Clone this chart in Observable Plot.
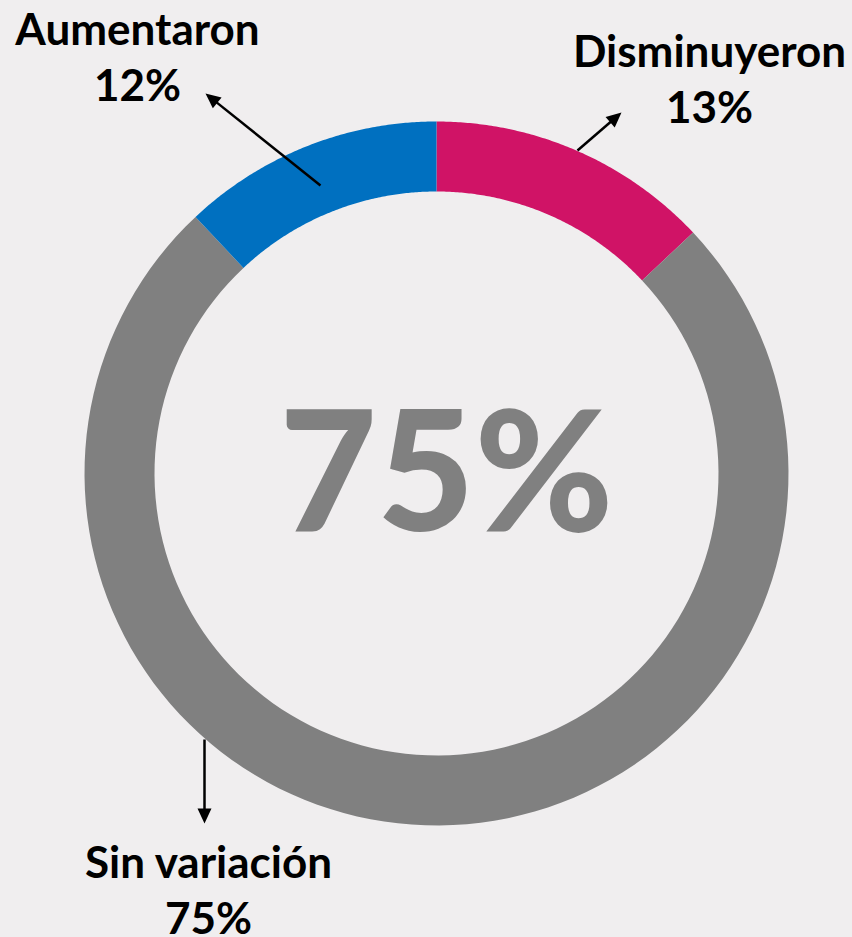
<!DOCTYPE html>
<html>
<head>
<meta charset="utf-8">
<script src="https://cdn.jsdelivr.net/npm/d3@7"></script>
<script src="https://cdn.jsdelivr.net/npm/@observablehq/plot@0.6"></script>
<style>
  html, body { margin: 0; padding: 0; background: #F0EEEF; }
  #chart { width: 852px; height: 937px; }
</style>
</head>
<body>
<div id="chart"></div>
<script>
// ---- data ----
const categories = ["Disminuyeron", "Sin variación", "Aumentaron"];
const values = [13, 75, 12];
const colors = ["#D01366", "#808080", "#0070C0"];
const centerLabel = "75%";

// ---- layout constants (pixel-unit data space, origin at donut centre, y up) ----
const R_OUT = 352, R_IN = 282;
const labelPos = {
  "Disminuyeron": [273, 351],
  "Sin variación": [-228, -460],
  "Aumentaron": [-299, 373]
};
const arrowPos = {
  "Disminuyeron": [[141, 323], [185, 361]],
  "Sin variación": [[-232, -266], [-232, -350]],
  "Aumentaron": [[-116, 288], [-231, 380]]
};

// ---- build arc polygons from values ----
const total = d3.sum(values);
const arcs = [];
let cum = 0;
values.forEach((v, i) => {
  const a0 = cum / total * 2 * Math.PI;
  const a1 = (cum + v) / total * 2 * Math.PI;
  cum += v;
  const n = 120;
  for (let k = 0; k <= n; k++) {
    const a = a0 + (a1 - a0) * k / n;
    arcs.push({cat: categories[i], x: R_OUT * Math.sin(a), y: R_OUT * Math.cos(a)});
  }
  for (let k = n; k >= 0; k--) {
    const a = a0 + (a1 - a0) * k / n;
    arcs.push({cat: categories[i], x: R_IN * Math.sin(a), y: R_IN * Math.cos(a)});
  }
});

// ---- arrows (shaft + filled head) ----
const shafts = [];
const heads = [];
const HL = 15, HW = 7;
categories.forEach(c => {
  const [[x1, y1], [x2, y2]] = arrowPos[c];
  const dx = x2 - x1, dy = y2 - y1, L = Math.hypot(dx, dy);
  const ux = dx / L, uy = dy / L;
  const bx = x2 - ux * HL, by = y2 - uy * HL;
  shafts.push({cat: c, x1, y1, x2: bx + ux * 2, y2: by + uy * 2});
  heads.push({cat: c, x: x2, y: y2});
  heads.push({cat: c, x: bx - uy * HW, y: by + ux * HW});
  heads.push({cat: c, x: bx + uy * HW, y: by - ux * HW});
});

const labels = categories.map((c, i) => ({
  text: `${c}\n${values[i]}%`, x: labelPos[c][0], y: labelPos[c][1]
}));

const chart = Plot.plot({
  width: 852,
  height: 937,
  margin: 0,
  style: {background: "#F0EEEF", fontFamily: "Lato, 'Open Sans', sans-serif"},
  x: {domain: [-436, 416], axis: null},
  y: {domain: [-464, 473], axis: null},
  color: {domain: categories, range: colors},
  marks: [
    Plot.line(arcs, {x: "x", y: "y", z: "cat", fill: "cat", stroke: null, curve: "linear-closed"}),
    Plot.link(shafts, {x1: "x1", y1: "y1", x2: "x2", y2: "y2", stroke: "black", strokeWidth: 2.5}),
    Plot.line(heads, {x: "x", y: "y", z: "cat", fill: "black", stroke: null, curve: "linear-closed"}),
    Plot.text(labels, {x: "x", y: "y", text: "text", fontSize: 44, fontWeight: "bold",
      lineHeight: 1.27, lineAnchor: "bottom", textAnchor: "middle", fill: "black",
      letterSpacing: 0.5}),
    Plot.text([centerLabel], {x: () => 10, y: () => -57, text: d => d, fontSize: 168,
      fontWeight: 900, lineAnchor: "bottom", textAnchor: "middle", fill: "#808080"})
  ]
});
document.getElementById("chart").appendChild(chart);
</script>
</body>
</html>
